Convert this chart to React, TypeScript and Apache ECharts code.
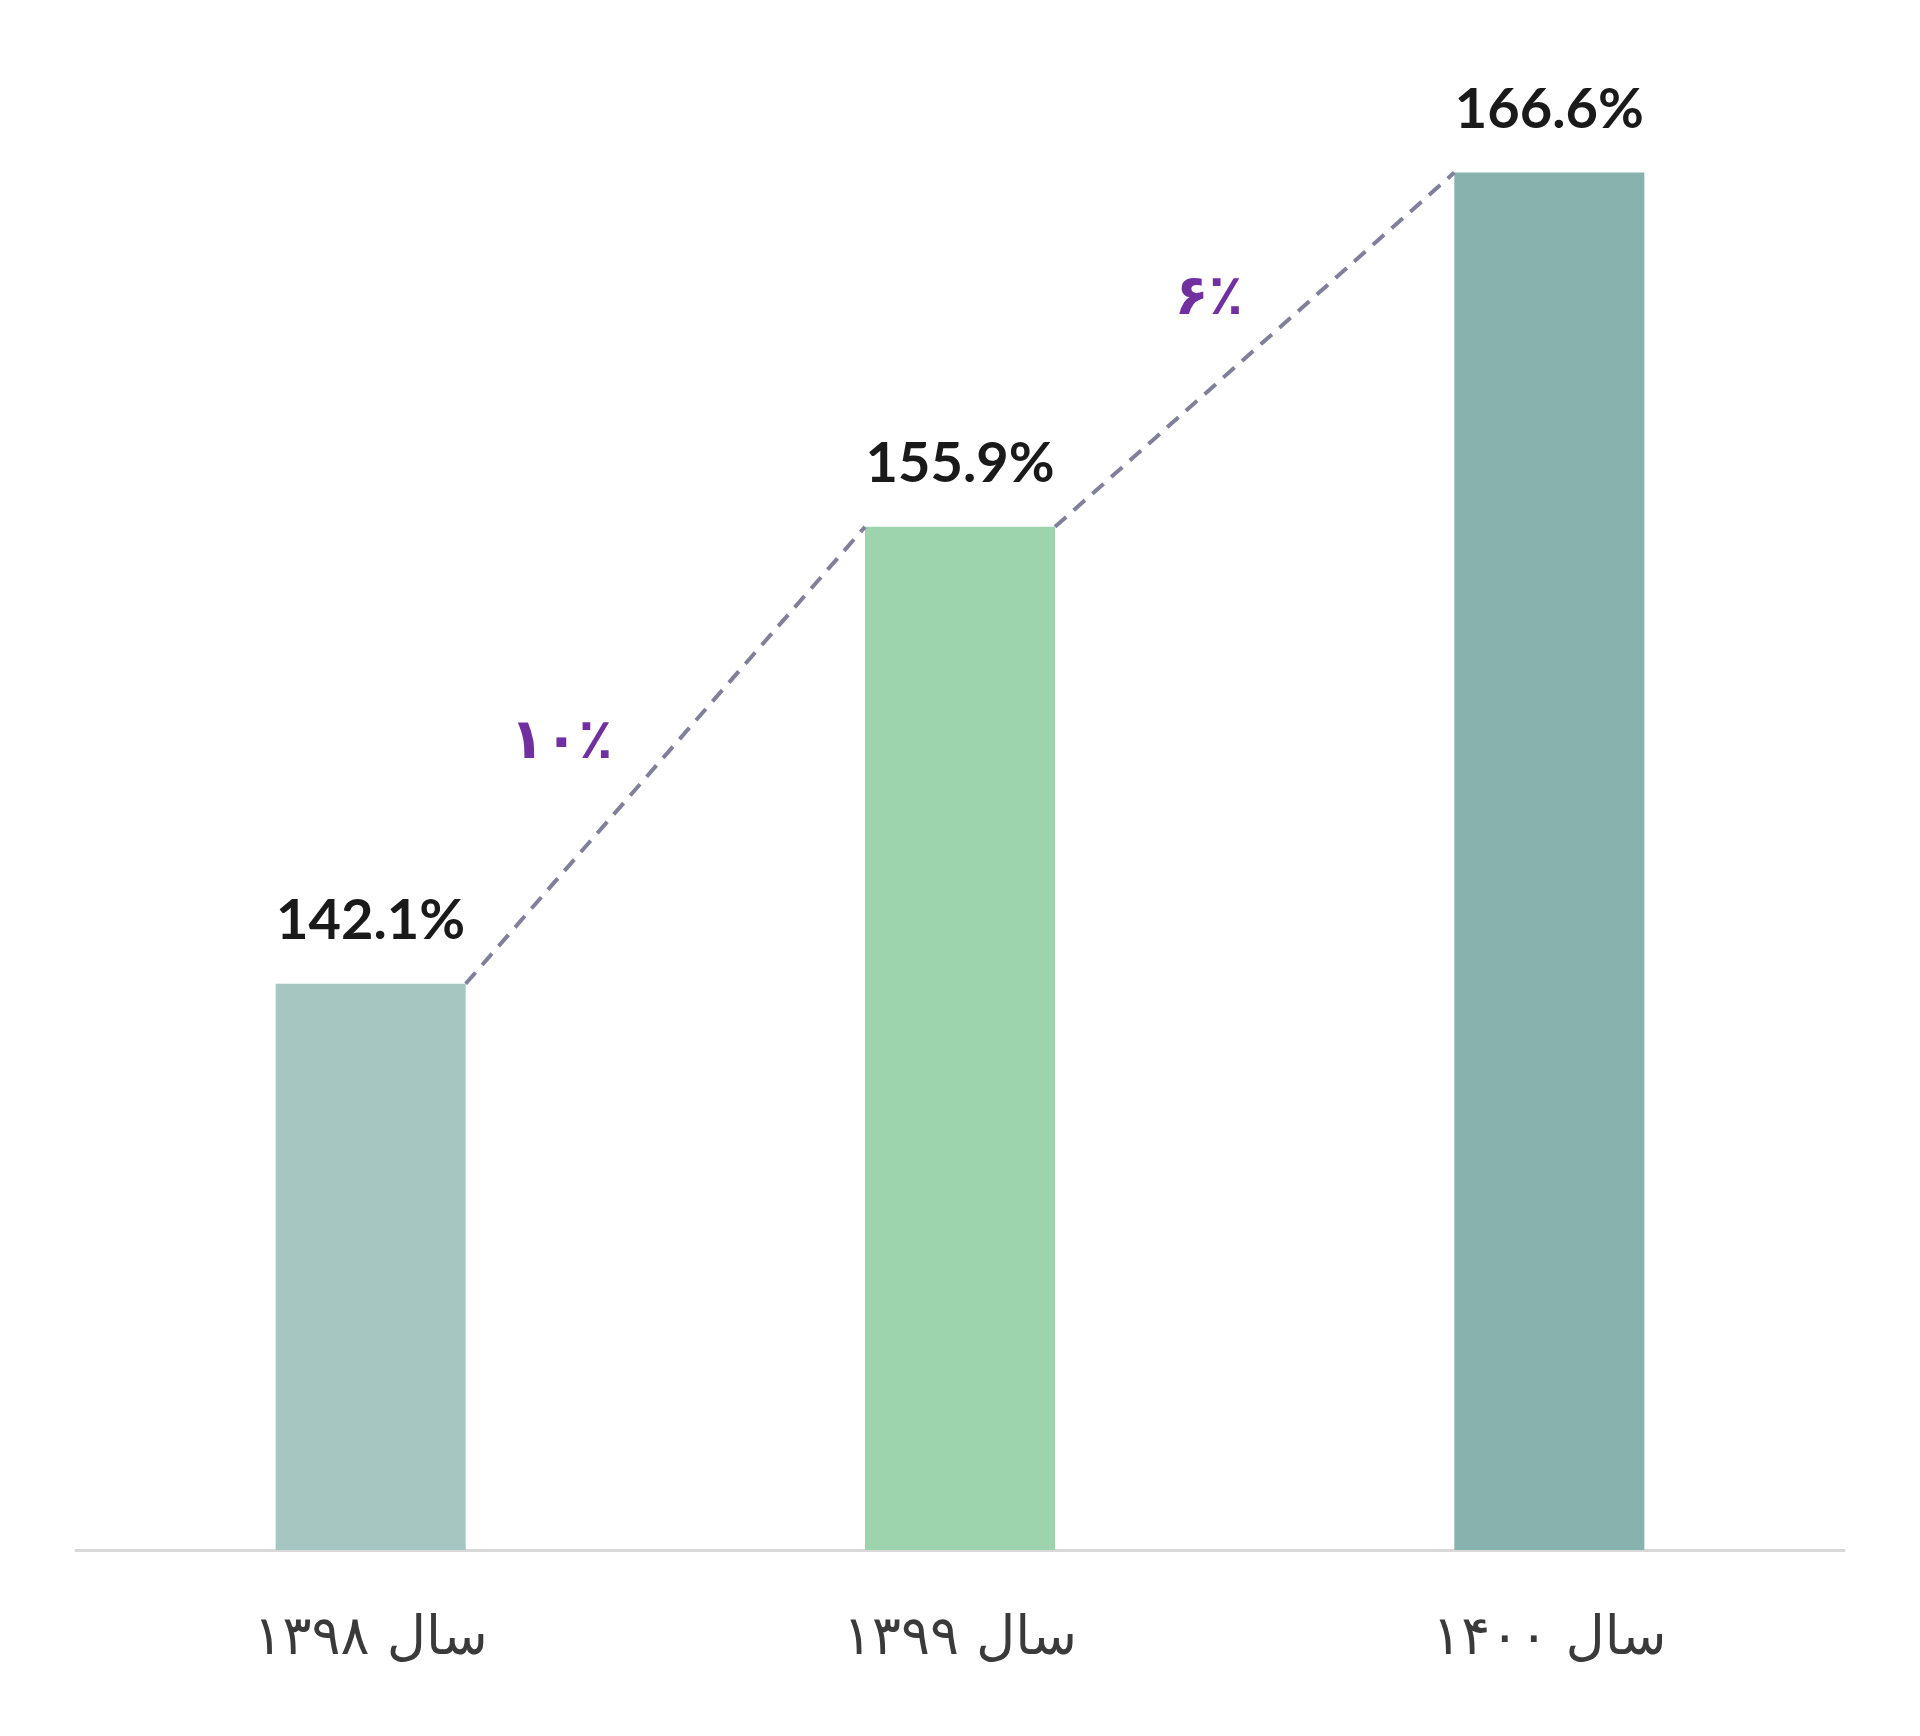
import { useEffect, useRef } from 'react';
import * as echarts from 'echarts';

const CATEGORIES = ['سال ۱۳۹۸', 'سال ۱۳۹۹', 'سال ۱۴۰۰'];
const VALUES = [142.1, 155.9, 166.6];
const BAR_COLORS = ['#a6c6c1', '#9dd4ae', '#88b2ae'];
const GROWTH_LABELS = ['۱۰٪', '۶٪'];
// label placement relative to the midpoint of each dashed connector
const GROWTH_LABEL_OFFSETS = [[-104, -17], [-46, -55]];

const BAR_WIDTH = 190;

export default function App() {
  const chartRef = useRef<HTMLDivElement>(null);

  useEffect(() => {
    if (!chartRef.current) return;
    const chart = echarts.init(chartRef.current, undefined, { renderer: 'svg' });

    chart.setOption({
      animation: false,
      backgroundColor: '#ffffff',
      grid: { left: 76, right: 76, top: 60, bottom: 186 },
      xAxis: {
        type: 'category',
        data: CATEGORIES,
        axisLine: { lineStyle: { color: '#d9d9d9', width: 3 } },
        axisTick: { show: false },
        axisLabel: {
          margin: 58,
          fontSize: 54,
          fontFamily: 'DejaVu Sans',
          color: '#3a3a3a',
        },
      },
      yAxis: {
        type: 'value',
        min: 125,
        max: 170,
        show: false,
        splitLine: { show: false },
      },
      series: [
        {
          type: 'bar',
          barWidth: BAR_WIDTH,
          data: VALUES.map((v, i) => ({ value: v, itemStyle: { color: BAR_COLORS[i] } })),
          label: {
            show: true,
            position: 'top',
            distance: 38,
            formatter: (p: { value: number }) => p.value.toFixed(1) + '%',
            fontFamily: 'Lato',
            fontWeight: 'bold',
            fontSize: 56,
            color: '#1a1a1a',
          },
        },
        {
          type: 'custom',
          encode: { x: 0, y: 1 },
          data: GROWTH_LABELS.map((_, i) => [i, VALUES[i], VALUES[i + 1]]),
          z: 5,
          renderItem: (params: { dataIndex: number }, api: any) => {
            const i = params.dataIndex;
            const start = api.coord([api.value(0), api.value(1)]);
            const end = api.coord([api.value(0) + 1, api.value(2)]);
            const x1 = start[0] + BAR_WIDTH / 2;
            const x2 = end[0] - BAR_WIDTH / 2;
            const mx = (x1 + x2) / 2;
            const my = (start[1] + end[1]) / 2;
            const [ox, oy] = GROWTH_LABEL_OFFSETS[i];
            return {
              type: 'group',
              children: [
                {
                  type: 'line',
                  shape: { x1, y1: start[1], x2, y2: end[1] },
                  style: { stroke: '#80809a', lineWidth: 4, lineDash: [15, 10] },
                },
                {
                  type: 'text',
                  x: mx + ox,
                  y: my + oy,
                  style: {
                    text: GROWTH_LABELS[i],
                    fill: '#7030a0',
                    fontSize: 56,
                    fontWeight: 'bold',
                    fontFamily: 'DejaVu Sans',
                    align: 'center',
                    verticalAlign: 'middle',
                  },
                },
              ],
            };
          },
        },
      ],
    });

    return () => chart.dispose();
  }, []);

  return (
    <div
      ref={chartRef}
      style={{ position: 'fixed', left: 0, top: 0, width: 1920, height: 1736 }}
    />
  );
}
